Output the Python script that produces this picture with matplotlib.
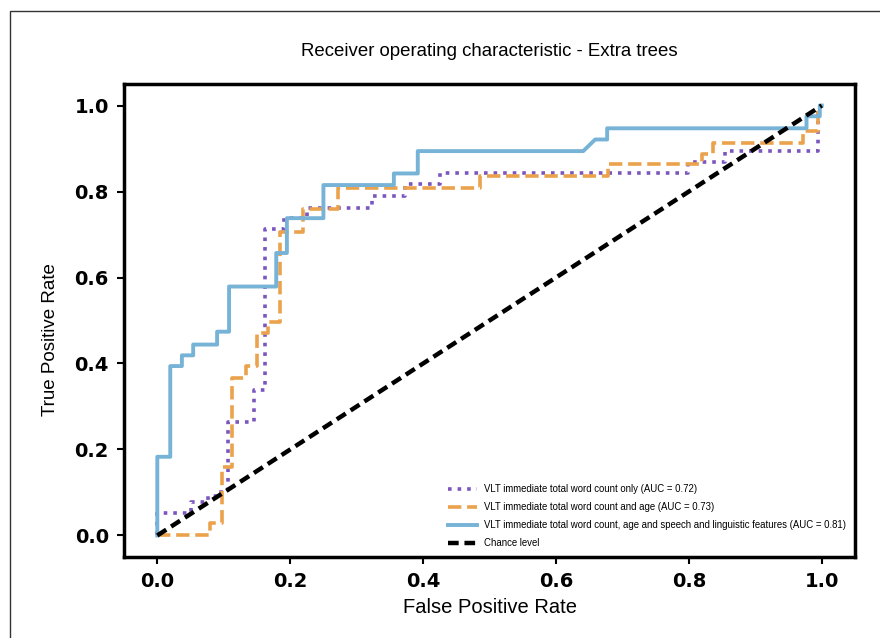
import matplotlib
matplotlib.use("Agg")
import matplotlib.pyplot as plt
from matplotlib.patches import Rectangle

# ---------------------------------------------------------------------------
# Data
# ---------------------------------------------------------------------------

fpr_wc = [0, 0, 0.05, 0.05, 0.077, 0.077, 0.09, 0.09, 0.107, 0.107, 0.146, 0.146,
          0.162, 0.162, 0.19, 0.19, 0.225, 0.225, 0.323, 0.323, 0.373, 0.373,
          0.425, 0.425, 0.798, 0.798, 0.854, 0.854, 0.994, 0.994, 1.0]
tpr_wc = [0, 0.053, 0.053, 0.079, 0.079, 0.092, 0.092, 0.1, 0.1, 0.264, 0.264, 0.338,
          0.338, 0.713, 0.713, 0.738, 0.738, 0.762, 0.762, 0.789, 0.789, 0.817,
          0.817, 0.842, 0.842, 0.868, 0.868, 0.894, 0.894, 1.0, 1.0]

fpr_age = [0, 0.08, 0.08, 0.097, 0.097, 0.113, 0.113, 0.134, 0.134, 0.15, 0.15,
           0.167, 0.167, 0.185, 0.185, 0.22, 0.22, 0.272, 0.272, 0.486, 0.486,
           0.678, 0.678, 0.82, 0.82, 0.836, 0.836, 0.972, 0.972, 0.994, 0.994, 1.0]
tpr_age = [0, 0, 0.03, 0.03, 0.16, 0.16, 0.367, 0.367, 0.395, 0.395, 0.472, 0.472,
           0.497, 0.497, 0.705, 0.705, 0.76, 0.76, 0.808, 0.808, 0.836, 0.836,
           0.863, 0.863, 0.887, 0.887, 0.912, 0.912, 0.94, 0.94, 1.0, 1.0]

fpr_all = [0, 0, 0.0195, 0.0195, 0.037, 0.037, 0.054, 0.054, 0.09, 0.09, 0.108,
           0.108, 0.179, 0.179, 0.195, 0.195, 0.25, 0.25, 0.356, 0.356, 0.392,
           0.392, 0.641, 0.659, 0.677, 0.677, 0.977, 0.977, 0.997, 0.997, 1.0]
tpr_all = [0, 0.183, 0.183, 0.394, 0.394, 0.419, 0.419, 0.444, 0.444, 0.474, 0.474,
           0.579, 0.579, 0.657, 0.657, 0.738, 0.738, 0.815, 0.815, 0.842, 0.842,
           0.894, 0.894, 0.921, 0.921, 0.947, 0.947, 0.975, 0.975, 1.0, 1.0]

chance = [0, 1]

labels = [
    "VLT immediate total word count only (AUC = 0.72)",
    "VLT immediate total word count and age (AUC = 0.73)",
    "VLT immediate total word count, age and speech and linguistic features (AUC = 0.81)",
    "Chance level",
]
ticks = [0.0, 0.2, 0.4, 0.6, 0.8, 1.0]

# ---------------------------------------------------------------------------
# Style
# ---------------------------------------------------------------------------

_PURPLE = "#7b56bf"
_ORANGE = "#eba24c"
_BLUE = "#76b3d6"
_ARIAL = ["Liberation Sans", "DejaVu Sans"]

fig = plt.figure(figsize=(8.8, 6.38), dpi=100)
fig.patch.set_facecolor("white")
ax = fig.add_axes([0.141, 0.127, 0.8306, 0.7413])

# thin frame around the figure (cut off at right / bottom in the reference)
fig.patches.append(Rectangle((10 / 880, -0.2), 1.3, 1.2 - 11 / 638,
                             transform=fig.transFigure, fill=False,
                             edgecolor="#333333", linewidth=1.0))

ax.plot(fpr_wc, tpr_wc, linestyle=":", color=_PURPLE, linewidth=2.6, label=labels[0])
ax.plot(fpr_age, tpr_age, linestyle="--", color=_ORANGE, linewidth=2.6, label=labels[1])
ax.plot(fpr_all, tpr_all, linestyle="-", color=_BLUE, linewidth=2.8, label=labels[2])
ax.plot(chance, chance, color="black", linewidth=3.2, dashes=(2.4, 1.3),
        label=labels[3])

ax.set_xlim(-0.05, 1.05)
ax.set_ylim(-0.05, 1.05)
ax.set_xticks(ticks)
ax.set_yticks(ticks)
ax.set_xticklabels([f"{t:.1f}" for t in ticks], fontsize=14, fontweight="bold",
                   family="DejaVu Sans")
ax.set_yticklabels([f"{t:.1f}" for t in ticks], fontsize=14, fontweight="bold",
                   family="DejaVu Sans")
ax.tick_params(length=5, width=1.5, pad=6)
for spine in ax.spines.values():
    spine.set_linewidth(2.5)

ax.set_xlabel("False Positive Rate", fontsize=14.5, family=_ARIAL, labelpad=5)
ax.set_ylabel("True Positive Rate", fontsize=13.5, family=_ARIAL)
ax.yaxis.set_label_coords(-0.089, 0.459)
ax.set_title("Receiver operating characteristic - Extra trees", fontsize=13.4,
             family=_ARIAL, pad=20)

ax.legend(loc="lower right", frameon=False, prop={"family": _ARIAL, "size": 6.9},
          handlelength=3, labelspacing=0.85, borderaxespad=0.5)

fig.savefig("out.png", dpi=100, facecolor="white")
